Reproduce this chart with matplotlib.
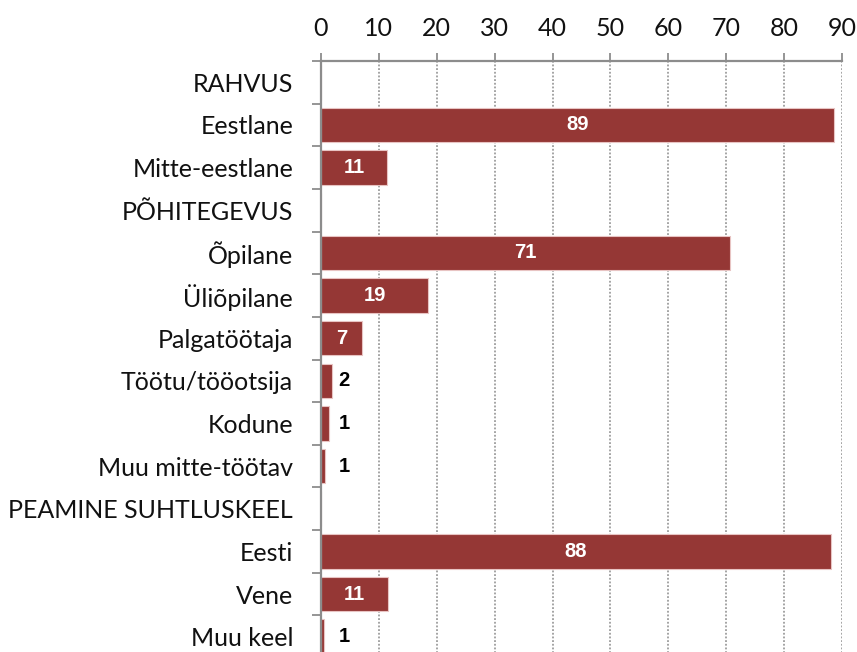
import matplotlib
matplotlib.use("Agg")
import matplotlib.pyplot as plt

categories = ["RAHVUS", "Eestlane", "Mitte-eestlane", "PÕHITEGEVUS", "Õpilane",
              "Üliõpilane", "Palgatöötaja", "Töötu/tööotsija", "Kodune",
              "Muu mitte-töötav", "PEAMINE SUHTLUSKEEL", "Eesti", "Vene", "Muu keel"]
values = [0, 88.65, 11.4, 0, 70.6, 18.5, 7.1, 1.95, 1.4, 0.7, 0, 88.1, 11.5, 0.55]
labels = ["", "89", "11", "", "71", "19", "7", "2", "1", "1", "", "88", "11", "1"]
xticks = [0, 10, 20, 30, 40, 50, 60, 70, 80, 90]

W, H = 857, 652
fig = plt.figure(figsize=(W / 100, H / 100), dpi=100)
left, right, top, bottom = 321, 842, 61, 658
ax = fig.add_axes([left / W, 1 - bottom / H, (right - left) / W, (bottom - top) / H])

bar_color = "#953735"
grid_color = "#8c8c8c"
n = len(categories)
ypos = list(range(n))
ax.barh(ypos, values, height=0.81, color=bar_color, edgecolor="#e8c4c3",
        linewidth=0.8, zorder=3)

ax.set_ylim(n - 0.5, -0.5)
ax.set_xlim(0, 90)
ax.xaxis.tick_top()
ax.set_xticks(xticks)
ax.set_xticklabels([str(t) for t in xticks])
ax.set_yticks(ypos)
ax.set_yticklabels(categories)
ax.tick_params(axis="y", length=0, pad=20)
ax.tick_params(axis="x", length=6, width=1.3, color=grid_color, pad=9)

for lab in ax.get_xticklabels() + ax.get_yticklabels():
    lab.set_fontfamily("Lato")
    lab.set_fontsize(18)
    lab.set_color("#111111")

# minor ticks at category boundaries on the left spine
ax.set_yticks([i + 0.5 for i in range(-1, n - 1)], minor=True)
ax.tick_params(axis="y", which="minor", length=6.5, width=1.3, color=grid_color, direction="out")

ax.grid(axis="x", linestyle=(0, (1.2, 1.2)), color=grid_color, linewidth=1.1, zorder=0)
for s in ["right", "bottom"]:
    ax.spines[s].set_visible(False)
for s in ["top", "left"]:
    ax.spines[s].set_color(grid_color)
    ax.spines[s].set_linewidth(1.6)
ax.spines["left"].set_zorder(4)

for y, v, lab in zip(ypos, values, labels):
    if not lab:
        continue
    if v >= 5:
        ax.text(v / 2, y, lab, ha="center", va="center", color="white",
                fontweight="bold", fontsize=14.5, family="Liberation Sans", zorder=5)
    else:
        ax.text(3.0, y, lab, ha="left", va="center", color="black",
                fontweight="bold", fontsize=14.5, family="Liberation Sans", zorder=5)

fig.savefig("out.png", dpi=100)
